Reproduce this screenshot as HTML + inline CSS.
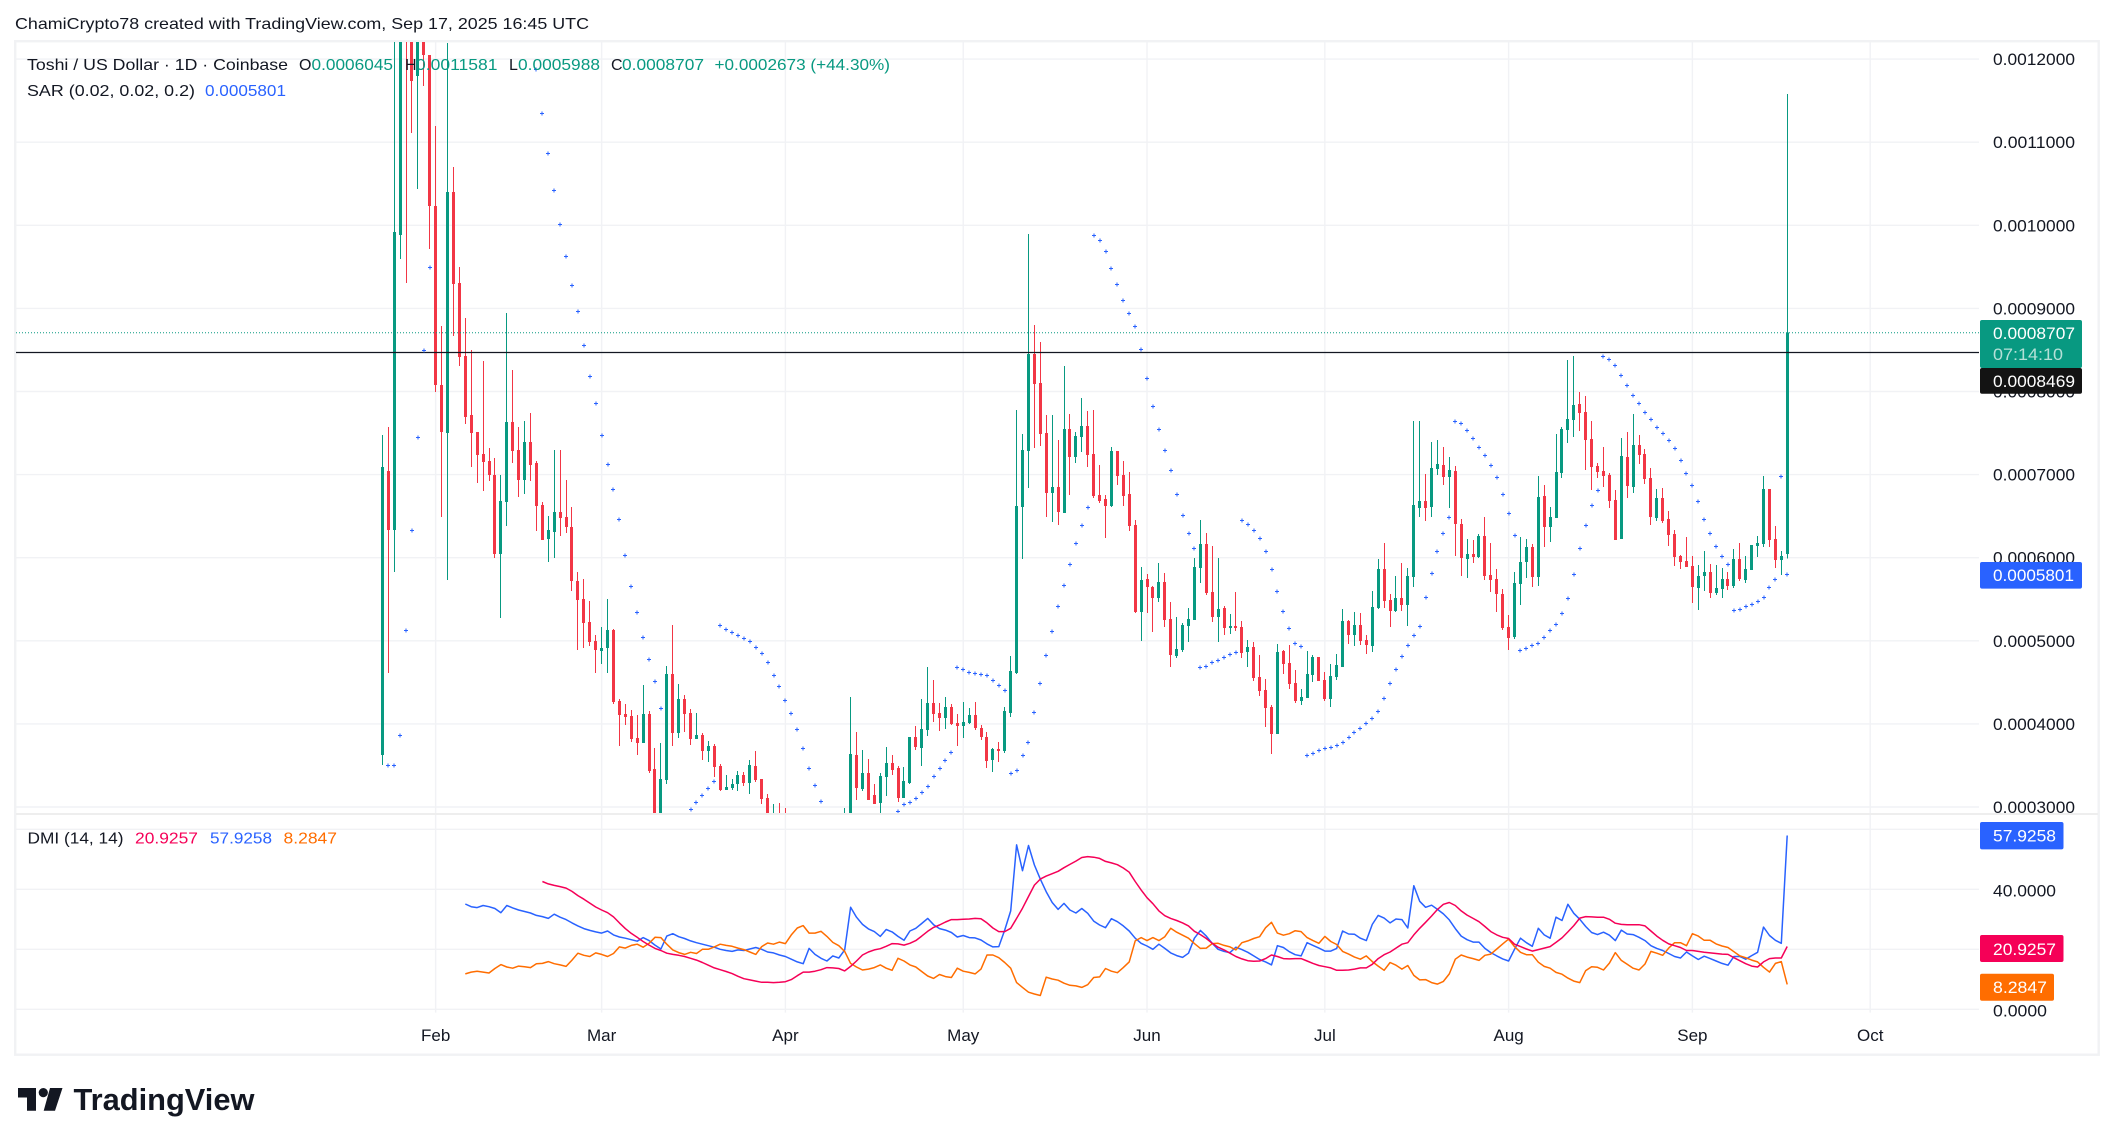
<!DOCTYPE html>
<html lang="en">
<head>
<meta charset="utf-8">
<title>Toshi / US Dollar chart</title>
<style>
html,body{margin:0;padding:0;background:#fff;}
svg{display:block;font-family:"Liberation Sans",sans-serif;}
text{fill:#131722;font-size:17px;}
</style>
</head>
<body>
<svg id="chart" xmlns="http://www.w3.org/2000/svg" width="2114" height="1145" viewBox="0 0 2114 1145">
  <defs>
    <clipPath id="priceClip"><rect x="16" y="42" width="1963" height="771"/></clipPath>
    <clipPath id="dmiClip"><rect x="16" y="815" width="1963" height="198"/></clipPath>
    <clipPath id="dmiAxisClip"><rect x="1980" y="815" width="118" height="201.5"/></clipPath>
  </defs>
  <rect x="0" y="0" width="2114" height="1145" fill="#ffffff"/>
  <text x="15" y="29" font-size="16" style="font-size:16px" textLength="574" lengthAdjust="spacingAndGlyphs">ChamiCrypto78 created with TradingView.com, Sep 17, 2025 16:45 UTC</text>
  <rect x="15.2" y="41.2" width="2083.5" height="1013.5" fill="none" stroke="#f1f2f4" stroke-width="2.4"/>
  <g id="grid"></g>
  <line x1="16" x2="2098" y1="814" y2="814" stroke="#eeeeee" stroke-width="2"/>
  <g id="pricePane" clip-path="url(#priceClip)"></g>
  <g id="dmiPane" clip-path="url(#dmiClip)"></g>
  <g id="priceAxis"></g>
  <g id="dmiAxis" clip-path="url(#dmiAxisClip)"></g>
  <g id="timeAxis"></g>

  <g style="font-size:16px">
    <text x="27" y="70" style="font-size:16px" textLength="261" lengthAdjust="spacingAndGlyphs">Toshi / US Dollar · 1D · Coinbase</text>
    <text x="299" y="70" style="font-size:16px">O</text>
    <text x="311.5" y="70" style="font-size:16px;fill:#089981" textLength="81.5" lengthAdjust="spacingAndGlyphs">0.0006045</text>
    <text x="405" y="70" style="font-size:16px">H</text>
    <text x="416" y="70" style="font-size:16px;fill:#089981" textLength="81.5" lengthAdjust="spacingAndGlyphs">0.0011581</text>
    <text x="509" y="70" style="font-size:16px">L</text>
    <text x="518" y="70" style="font-size:16px;fill:#089981" textLength="82" lengthAdjust="spacingAndGlyphs">0.0005988</text>
    <text x="611" y="70" style="font-size:16px">C</text>
    <text x="622" y="70" style="font-size:16px;fill:#089981" textLength="82" lengthAdjust="spacingAndGlyphs">0.0008707</text>
    <text x="714.5" y="70" style="font-size:16px;fill:#089981" textLength="175.5" lengthAdjust="spacingAndGlyphs">+0.0002673 (+44.30%)</text>
    <text x="27" y="96" style="font-size:16px" textLength="168" lengthAdjust="spacingAndGlyphs">SAR (0.02, 0.02, 0.2)</text>
    <text x="205" y="96" style="font-size:16px;fill:#2962ff" textLength="81" lengthAdjust="spacingAndGlyphs">0.0005801</text>
  </g>
  <g>
    <text x="27.5" y="843.5" style="font-size:16px" textLength="96" lengthAdjust="spacingAndGlyphs">DMI (14, 14)</text>
    <text x="135" y="843.5" style="font-size:16px;fill:#f50057" textLength="63" lengthAdjust="spacingAndGlyphs">20.9257</text>
    <text x="210" y="843.5" style="font-size:16px;fill:#2962ff" textLength="62" lengthAdjust="spacingAndGlyphs">57.9258</text>
    <text x="283.5" y="843.5" style="font-size:16px;fill:#ff6d00" textLength="53.5" lengthAdjust="spacingAndGlyphs">8.2847</text>
  </g>

  <g>
    <rect x="1980" y="320" width="102" height="48" rx="2" fill="#089981"/>
    <text x="1993" y="339" style="fill:#ffffff" textLength="82" lengthAdjust="spacingAndGlyphs">0.0008707</text>
    <text x="1993" y="360" style="fill:#b5e0d7" textLength="70" lengthAdjust="spacingAndGlyphs">07:14:10</text>
    <rect x="1980" y="368" width="102" height="25.7" rx="2" fill="#131313"/>
    <text x="1993" y="386.8" style="fill:#ffffff" textLength="82" lengthAdjust="spacingAndGlyphs">0.0008469</text>
    <rect x="1980" y="562" width="102" height="26.6" rx="2" fill="#2962ff"/>
    <text x="1993" y="581" style="fill:#ffffff" textLength="81" lengthAdjust="spacingAndGlyphs">0.0005801</text>
    <rect x="1980" y="822" width="83.5" height="27.4" rx="2" fill="#2962ff"/>
    <text x="1993" y="841.5" style="fill:#ffffff" textLength="63" lengthAdjust="spacingAndGlyphs">57.9258</text>
    <rect x="1980" y="935" width="83.5" height="27" rx="2" fill="#f50057"/>
    <text x="1993" y="955" style="fill:#ffffff" textLength="63" lengthAdjust="spacingAndGlyphs">20.9257</text>
    <rect x="1980" y="973.7" width="74" height="27" rx="2" fill="#ff6d00"/>
    <text x="1993" y="993" style="fill:#ffffff" textLength="54" lengthAdjust="spacingAndGlyphs">8.2847</text>
  </g>

  <g>
    <path d="M18 1088H36V1110.7H27V1097.5H18Z" fill="#131722"/>
    <circle cx="43.3" cy="1092.6" r="4.6" fill="#131722"/>
    <path d="M50 1088H62.5L55 1110.7H43.7Z" fill="#131722"/>
    <text x="73.5" y="1110" style="font-size:31px;font-weight:bold" textLength="181" lengthAdjust="spacingAndGlyphs">TradingView</text>
  </g>
</svg>
<script>
// Values in units of 0.0000001 USD, one per daily bar starting Jan 23 2025.
const PRICE_UNIT = 1e-7;
const opens = [
3626,7043,6333,9883,14500,14000,11797,12800,12049,10232,
8078,7500,10401,9305,8427,7717,7512,7247,7163,6995,
6044,6670,7633,7296,6935,7392,7139,6634,6225,6309,
6550,6489,6369,5719,5503,5226,4997,4877,4913,5130,
4275,4119,4095,3830,3770,4119,3457,2700,3325,4600,
3890,4299,4131,3818,3866,3674,3734,3493,3204,3228,
3277,3385,3289,3493,3337,3108,2800,2928,2870,2700,
2650,2600,2550,2600,2550,2500,2550,2550,2600,2800,
3626,3216,3409,3144,3048,3361,3529,3469,3108,3289,
3842,3710,3926,4251,4131,4071,4203,4011,3974,4011,
4107,3950,3842,3565,3698,3674,4131,4612,6610,7284,
8451,8102,7500,6778,6850,6538,7548,7211,7452,7584,
7247,6754,6706,6622,7284,6995,6766,6393,5346,5743,
5647,5515,5707,5262,4817,4889,5178,5250,5876,6165,
5587,5286,5394,5154,5178,5166,4865,4925,4564,4408,
4203,3878,4877,4733,4492,4275,4311,4588,4805,4528,
4299,4564,4684,5238,5070,5190,5009,4937,5394,5864,
5491,5358,5515,5431,5768,6598,6682,6610,7067,7115,
6971,7043,6405,5984,6044,6008,6261,5792,5743,5563,
5166,5045,5683,5948,6129,5768,6742,6369,6477,7019,
7536,7657,7849,7753,7428,7103,7043,6995,6694,6225,
7211,6850,7356,7247,6959,6477,6718,6465,6285,6020,
5960,5900,5635,5780,5828,5575,5623,5743,5659,5984,
5731,5852,6141,6165,6826,6225,5972,6045];
const highs = [
7476,7572,13000,14000,15000,14500,13500,13000,12049,11195,
8788,12194,10701,9498,8884,8499,7512,8367,7320,7199,
6995,8944,8258,7572,7645,7741,7163,6670,6502,7296,
7296,6935,6610,5828,5743,5479,5070,5166,5503,5142,
4299,4239,4167,4107,4468,4155,3710,3770,4697,5190,
4480,4347,4179,4131,3890,3794,3758,3517,3385,3337,
3433,3421,3565,3674,3337,3156,3036,3048,2988,2880,
2800,2750,2750,2750,2700,2700,2700,2750,2988,4323,
3902,3686,3577,3277,3409,3722,3626,3493,3481,3842,
3974,4299,4684,4528,4251,4323,4239,4119,4263,4191,
4263,3986,3902,3710,3782,4203,4817,7777,7488,9895,
8800,8595,7717,7717,7416,8306,7729,7512,7921,7765,
7777,7115,6754,7332,7284,7163,7031,6453,5888,5804,
5659,5936,5816,5467,5286,5214,5394,5996,6453,6297,
6141,5996,5418,5322,5587,5238,5009,4985,4829,4540,
4227,4961,4889,4949,4648,4420,4877,4829,4805,4624,
4721,4841,5382,5250,5346,5334,5070,5599,5984,6177,
5563,5780,5936,5876,7645,7645,7007,7392,7416,7332,
7211,7103,6465,6225,6213,6285,6490,6177,5864,5623,
5310,5828,6249,6225,6165,6983,6875,6610,7488,7572,
8379,8427,7994,7946,7645,7139,7332,7019,6814,7440,
7512,7729,7476,7308,7079,6826,6838,6562,6333,6032,
6249,6020,5912,6080,5924,5912,5876,5828,6104,6177,
6020,6153,6261,6983,6826,6381,6080,11581];
const lows = [
3505,4612,5828,9594,9305,11111,10437,11676,9714,7994,
6490,5731,8667,8306,7609,7091,6899,6802,6923,5996,
5274,6381,7139,6730,6766,6923,6321,6213,5948,5996,
6261,6297,5599,4889,4913,4937,4612,4721,4612,4239,
3734,3986,3782,3626,3770,3409,2600,2600,3277,3734,
3830,3902,3746,3818,3565,3541,3361,3192,3204,3204,
3192,3253,3156,3301,3036,2750,2700,2700,2600,2500,
2450,2400,2400,2400,2350,2350,2400,2450,2550,2750,
3084,3192,3084,3036,2916,3132,3385,3060,3108,3277,
3686,3493,3854,4023,3914,3938,3986,3734,3830,3999,
3926,3806,3469,3421,3541,3650,4083,4600,5984,6838,
7320,7344,6490,6429,6393,6538,6754,7139,7272,7091,
6718,6658,6237,6610,6875,6622,6321,5334,4997,5334,
5105,5467,5166,4684,4793,4865,4985,5250,5695,5551,
5226,4985,5070,5082,5118,4793,4684,4516,4335,3962,
3638,3878,4600,4420,4251,4227,4311,4504,4516,4275,
4203,4528,4684,4961,4937,4949,4841,4865,5382,5394,
5166,5346,5358,5178,5647,6490,6441,6490,6995,6875,
6598,6020,5780,5756,5936,5996,5731,5587,5346,5130,
4889,5021,5431,5756,5647,5659,6129,6189,6477,6959,
7380,7452,7524,7055,6814,6959,6850,6598,6213,6225,
6718,6778,7127,6887,6393,6441,6417,6141,5900,5864,
5888,5455,5370,5599,5515,5551,5515,5611,5635,5719,
5695,5852,6008,6129,6129,5876,5792,5988];
const closes = [
7091,6333,9919,13500,12500,11736,13000,12049,10232,8078,
7512,10401,9293,8415,7693,7500,7235,7151,6995,6044,
6682,7633,7284,6935,7392,7115,6622,6213,6333,6550,
6477,6369,5719,5491,5214,4985,4889,4913,5130,4263,
4107,4083,3818,3770,4119,3433,2700,3337,4600,3890,
4299,4119,3818,3866,3674,3734,3481,3204,3240,3277,
3385,3289,3505,3325,3096,2800,2928,2800,2700,2650,
2600,2550,2600,2550,2500,2550,2550,2600,2850,3638,
3228,3409,3084,3036,3373,3529,3445,3108,3313,3842,
3722,3938,4251,4119,4071,4203,3999,3974,4023,4107,
3950,3842,3553,3698,3674,4155,4636,6622,7296,8451,
8090,7488,6778,6850,6550,7548,7211,7464,7584,7235,
6742,6682,6622,7284,6983,6742,6381,5346,5731,5647,
5515,5707,5250,4829,4901,5190,5262,5888,6165,5575,
5286,5382,5154,5178,5154,4853,4925,4552,4396,4191,
3878,4865,4721,4480,4275,4323,4600,4805,4516,4299,
4576,4709,5238,5070,5190,4997,4949,5406,5864,5479,
5358,5515,5431,5780,6634,6682,6598,7079,7127,6971,
7055,6405,5996,6044,6008,6261,5780,5731,5563,5154,
5033,5695,5948,6129,5768,6730,6369,6490,7031,7548,
7669,7837,7741,7416,7091,7031,6983,6682,6213,7223,
6862,7356,7235,6947,6490,6718,6441,6273,6008,5948,
5888,5647,5780,5828,5575,5635,5743,5659,5984,5743,
5864,6153,6177,6826,6213,5972,6020,8707];
// Parabolic SAR per bar; null where the dot falls outside the visible range.
const sarValues = [
null,3505,3505,3866,5130,6333,7452,8499,9498,null,
null,null,null,null,null,null,null,null,null,null,
null,null,null,null,null,null,11880,11351,10870,10425,
10015,9630,9281,8968,8559,8186,7861,7476,7127,6826,
6465,6032,5659,5346,5045,4781,4516,4191,null,null,
null,null,2976,3060,3144,3228,3313,5190,5142,5105,
5070,5033,4997,4925,4853,4745,4588,4456,4287,4131,
3938,3710,3469,3264,3072,null,null,null,null,null,
null,null,null,null,null,null,null,2952,3036,3060,
3108,3180,3253,3373,3469,3565,3662,4684,4660,4624,
4612,4600,4588,4528,4468,4408,3409,3445,3626,3782,
4143,4492,4829,5118,5418,5671,5924,6177,6393,6610,
9889,9829,9695,9492,9299,9105,8944,8788,8511,8162,
7830,7553,7296,7061,6771,6517,6300,6111,4684,4702,
4745,4769,4808,4846,4868,6453,6411,6338,6232,6085,
5868,5605,5362,5158,4979,4942,3630,3653,3681,3704,
3727,3749,3777,3837,3906,3956,4016,4077,4160,4306,
4495,4666,4817,4949,5070,5178,5527,5815,6080,6297,
6490,7645,7621,7536,7440,7332,7235,7115,6971,6766,
6538,6273,4889,4913,4949,4973,5045,5130,5202,5334,
5515,5804,6117,6393,6634,6814,8427,8391,8318,8198,
8078,7958,7861,7753,7669,7572,7500,7416,7320,7175,
7019,6875,6682,6465,6297,6141,6020,5924,5370,5382,
5418,5443,5479,5527,5647,5743,6983,5801];
// DMI series; the first value of each belongs to the bar given by its start index.
const plusDiStart = 14;
const plusDi = [
35.1,34.2,33.9,34.6,34.2,33.6,32.2,34.6,33.8,33.1,32.6,32.1,31.3,30.9,30.3,31.7,30.7,29.9,28.8,27.8,
26.9,26.3,25.8,25.4,26.1,24.8,24.1,23.7,23.2,22.7,23.9,22.9,21.4,20.1,24.4,25.2,24.2,23.6,22.8,22.2,
21.7,21.2,20.7,20.0,19.6,19.3,19.8,19.6,20.1,20.6,20.0,19.1,18.8,18.1,17.6,16.7,15.8,15.2,20.3,18.3,
17.0,16.1,17.8,17.1,19.8,34.0,30.7,28.3,26.8,25.9,24.3,26.6,25.8,24.3,23.0,26.1,27.0,28.6,30.3,28.2,26.9,
26.4,25.6,24.1,24.6,23.9,23.8,23.1,21.8,20.8,20.9,26.4,32.8,54.8,46.2,54.6,48.1,43.4,39.2,35.6,33.3,
35.3,33.1,32.1,33.6,32.0,29.4,28.1,27.2,30.2,29.2,27.8,26.1,23.7,22.0,21.1,20.0,21.7,20.3,18.8,17.9,
17.3,18.7,23.7,26.3,24.4,22.0,20.0,19.3,18.9,20.7,19.9,19.0,17.8,16.6,15.8,14.8,21.2,20.6,19.2,18.2,
17.8,22.2,21.3,20.4,19.4,19.4,20.3,26.1,25.1,25.0,23.7,22.9,28.3,31.3,30.4,28.8,30.1,29.9,27.1,41.2,36.0,
34.0,34.7,33.3,31.8,29.8,26.9,24.4,23.2,22.4,22.4,20.3,18.9,17.8,16.8,16.1,20.0,23.7,22.2,21.0,27.0,
24.8,23.7,30.7,29.6,35.0,32.0,30.0,27.6,25.6,24.9,25.7,24.7,22.9,26.4,25.1,24.9,24.0,22.9,21.2,20.3,
19.6,18.6,17.6,17.1,19.1,17.8,16.6,17.7,16.9,16.1,15.3,14.7,17.6,17.6,16.7,17.9,19.0,27.4,24.6,23.0,22.0,57.9258];
const minusDiStart = 14;
const minusDi = [
11.8,12.4,12.7,12.4,12.1,13.6,14.9,14.1,13.7,14.4,14.2,13.9,15.2,15.3,15.9,15.2,14.8,14.3,16.4,18.7,
18.0,17.6,18.8,18.3,17.6,18.6,20.8,20.4,21.3,21.7,20.7,22.0,24.0,23.9,21.7,19.8,18.9,18.3,19.0,18.6,
20.0,20.0,20.8,21.7,21.3,21.0,20.4,19.9,19.1,18.3,20.9,22.1,21.7,22.4,21.9,24.8,27.1,27.9,25.4,25.4,
26.0,24.3,22.3,21.2,19.3,15.3,14.1,13.1,13.4,13.9,14.8,13.7,13.0,17.0,16.1,14.8,14.1,12.6,11.1,10.3,11.6,
10.9,10.6,13.7,12.7,12.3,11.8,13.4,18.1,18.1,17.2,15.6,13.7,8.9,7.3,5.7,5.1,4.6,10.7,10.1,9.7,
8.7,8.0,7.8,7.3,8.2,10.6,10.8,13.6,12.7,12.2,13.9,15.8,22.8,23.9,22.9,23.9,22.9,24.2,27.0,25.7,
24.7,23.7,21.9,20.3,20.4,21.9,22.0,21.3,20.8,19.8,22.2,22.8,23.6,24.2,27.2,29.0,25.4,24.7,25.2,26.2,
25.9,23.9,22.9,22.0,24.3,22.6,21.6,19.3,18.4,17.4,16.7,17.8,15.9,14.4,13.0,15.6,14.7,13.4,14.6,11.3,9.8,
9.9,8.9,8.4,9.3,11.8,16.7,18.1,17.4,16.9,16.3,18.0,18.4,20.1,21.8,23.4,20.9,19.0,18.2,18.2,15.7,
14.3,13.7,12.3,11.7,10.4,9.4,8.9,12.9,14.2,14.0,13.1,15.4,18.9,16.3,15.0,13.7,13.1,15.1,19.3,18.7,
18.0,20.4,22.2,22.2,21.2,25.2,24.4,23.0,23.0,21.8,21.1,20.6,19.2,17.8,17.2,16.4,15.8,14.0,12.4,15.3,15.9,8.2847];
const adxStart = 27;
const adx = [
42.6,41.8,41.3,40.9,40.4,39.3,37.9,36.7,35.4,34.1,33.1,32.2,30.8,28.8,26.9,25.3,24.0,22.6,21.4,20.3,
19.6,18.7,18.3,18.0,17.6,17.0,16.4,15.6,14.7,13.8,13.2,12.6,11.9,11.0,10.2,9.8,9.4,9.0,9.0,8.9,
9.0,9.2,9.9,11.2,12.4,12.4,12.7,13.2,13.9,13.8,13.6,12.8,14.3,16.1,18.1,19.1,19.8,20.2,21.0,21.9,
21.8,21.4,22.0,22.9,24.4,26.0,27.3,28.1,
29.1,29.9,29.9,30.0,30.1,30.3,30.2,28.8,27.1,25.9,25.9,27.0,30.3,33.7,37.6,41.4,43.4,44.4,45.2,46.0,
47.2,48.3,49.4,50.6,50.9,50.7,50.3,49.3,48.8,48.2,47.1,45.7,42.6,39.8,37.2,35.2,32.8,31.2,30.3,29.6,
28.8,27.8,26.0,24.9,23.6,22.0,20.7,19.8,18.7,17.6,16.8,16.2,16.0,16.1,16.9,18.1,17.6,16.9,16.8,16.9,
16.9,16.1,15.3,14.6,14.2,13.8,13.0,13.0,13.1,13.4,13.8,13.8,15.0,16.9,18.2,19.1,20.4,21.7,22.2,24.8,27.0,
29.0,31.1,33.3,35.0,35.6,34.6,32.8,31.4,30.3,29.2,27.6,25.9,24.8,24.0,23.6,21.7,20.9,20.1,19.4,19.9,
20.4,20.9,22.3,23.8,25.8,27.9,30.4,30.9,30.8,30.7,30.7,30.0,28.7,28.3,28.2,28.2,28.2,27.8,26.1,24.4,
23.0,21.8,21.2,20.6,19.6,19.6,19.3,19.0,18.8,18.6,18.4,18.3,17.2,16.2,15.2,14.4,14.1,15.8,16.9,17.1,17.1,20.9257];
const priceTicks = [12000,11000,10000,9000,8000,7000,6000,5000,4000,3000];
const dmiGridTicks = [60,40,20,0];
const dmiLabelTicks = [40,0];
const monthLabels = ["Feb","Mar","Apr","May","Jun","Jul","Aug","Sep","Oct"];
const monthBars = [9,37,68,98,129,159,190,221,251];
const crosshairPrice = 8469;

const SVGNS = "http://www.w3.org/2000/svg";
function barX(i){ return 382.3 + 5.928 * i; }
function priceY(p){ return 59.1 + (12000 - p) * 0.0831; }
function dmiY(v){ return 1009.3 - 3 * v; }
function make(tag, parent){
  const el = document.createElementNS(SVGNS, tag);
  parent.appendChild(el);
  return el;
}
function setAll(el, attrs){
  for (const k in attrs) el.setAttribute(k, attrs[k]);
}
const grid = document.getElementById("grid");
const pricePane = document.getElementById("pricePane");
const dmiPane = document.getElementById("dmiPane");
const priceAxis = document.getElementById("priceAxis");
const dmiAxis = document.getElementById("dmiAxis");
const timeAxis = document.getElementById("timeAxis");
const GRID = "#f1f2f5";

priceTicks.forEach(function(t){
  const g = make("line", grid);
  
  
  setAll(g, {x1:16, x2:1979, y1:priceY(t), y2:priceY(t), stroke:GRID, "stroke-width":1.4});
  const lab = make("text", priceAxis);
  
  
  setAll(lab, {x:1993, y:priceY(t) + 6, textLength:82, lengthAdjust:"spacingAndGlyphs"});
  lab.textContent = (t * PRICE_UNIT).toFixed(7);
});
dmiGridTicks.forEach(function(t){
  const g = make("line", grid);
  
  
  setAll(g, {x1:16, x2:1979, y1:dmiY(t), y2:dmiY(t), stroke:GRID, "stroke-width":1.4});
});
dmiLabelTicks.forEach(function(t){
  const lab = make("text", dmiAxis);
  
  
  setAll(lab, {x:1993, y:dmiY(t) + 7, textLength: t >= 10 ? 63 : 54, lengthAdjust:"spacingAndGlyphs"});
  lab.textContent = t.toFixed(4);
});
monthLabels.forEach(function(m, k){
  const x = barX(monthBars[k]);
  const g = make("line", grid);
  
  
  setAll(g, {x1:x, x2:x, y1:42, y2:1012.6, stroke:GRID, "stroke-width":1.4});
  const lab = make("text", timeAxis);
  
  
  setAll(lab, {x:x, y:1041, "text-anchor":"middle"});
  lab.textContent = m;
});

// Candles
opens.forEach(function(o, i){
  const c = closes[i], h = highs[i], l = lows[i];
  const col = c >= o ? "#089981" : "#f23645";
  const cx = barX(i);
  const g = make("g", pricePane);
  
  
  const wick = make("rect", g);
  
  
  setAll(wick, {x:Math.round(cx - 0.5), y:priceY(h), width:1, height:Math.max(priceY(l) - priceY(h), 1), fill:col, "shape-rendering":"crispEdges"});
  const top = priceY(Math.max(o, c)), bot = priceY(Math.min(o, c));
  const body = make("rect", g);
  
  
  setAll(body, {x:Math.round(cx - 1.5), y:top, width:3, height:Math.max(bot - top, 1), fill:col, "shape-rendering":"crispEdges"});
});

// Last price and crosshair lines
const lastY = priceY(closes[closes.length - 1]);
const lastLine = make("line", pricePane);


setAll(lastLine, {x1:16, x2:1979, y1:lastY, y2:lastY, stroke:"#089981", "stroke-width":1, "stroke-dasharray":"1 2"});
const crossY = priceY(crosshairPrice);
const crossLine = make("line", pricePane);


setAll(crossLine, {x1:16, x2:1979, y1:crossY, y2:crossY, stroke:"#131722", "stroke-width":1.3});

// SAR dots
sarValues.forEach(function(v, i){
  if (v === null) return;
  const x = Math.round(barX(i)), y = Math.round(priceY(v));
  const dot = make("path", pricePane);
  
  
  setAll(dot, {d:"M" + (x - 2) + " " + (y + 0.5) + "h4M" + (x - 0 + 0) + " " + (y - 1.5) + "v4", stroke:"#2962ff", "stroke-width":1.2, fill:"none", "shape-rendering":"crispEdges"});
});

// DMI lines
function drawLine(values, start, color, name){
  const pts = values.map(function(v, k){
    return barX(start + k).toFixed(1) + "," + dmiY(v).toFixed(1);
  }).join(" ");
  const line = make("polyline", dmiPane);
  setAll(line, {points:pts, fill:"none", stroke:color, "stroke-width":1.5, "stroke-linejoin":"round"});
  return line;
}
const plusLine = drawLine(plusDi, plusDiStart, "#2962ff");


const minusLine = drawLine(minusDi, minusDiStart, "#ff6d00");


const adxLine = drawLine(adx, adxStart, "#f50057");


</script>
</body>
</html>
